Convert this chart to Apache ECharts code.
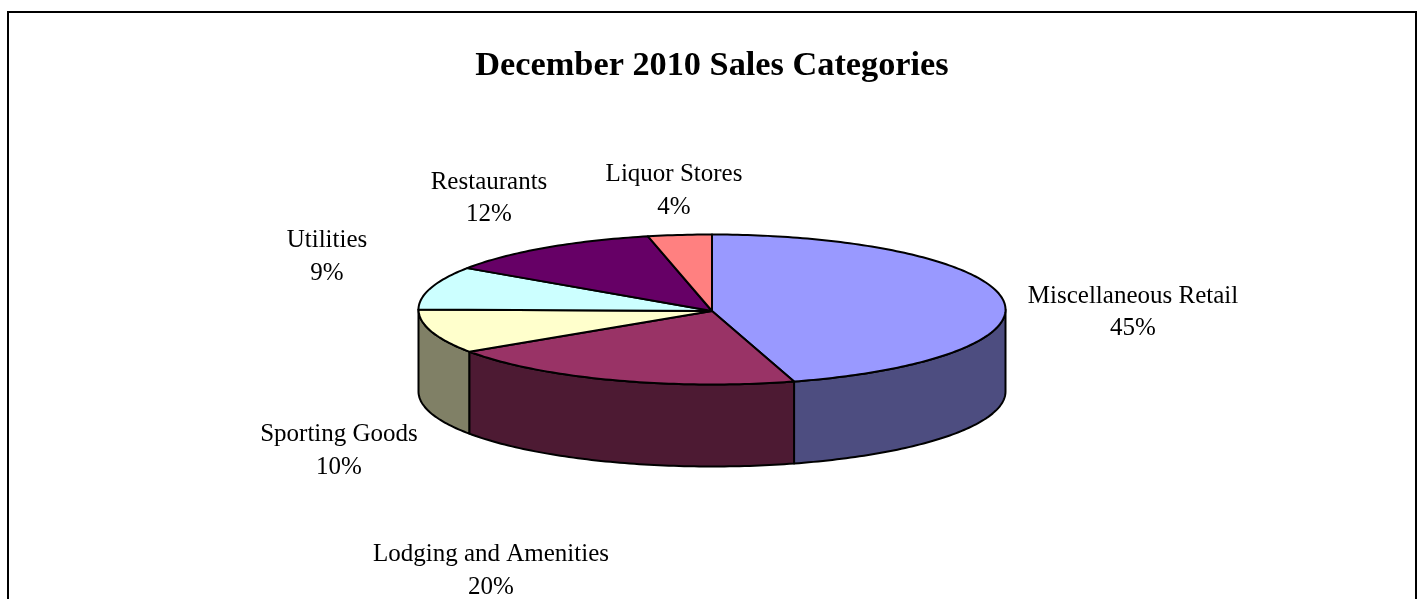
<!DOCTYPE html>
<html><head><meta charset="utf-8">
<style>html,body{margin:0;padding:0;background:#fff}#c{width:1417px;height:599px}</style>
<script src="https://cdn.jsdelivr.net/npm/echarts@6/dist/echarts.min.js"></script>
</head><body><div id="c"></div>
<script>
const categories = ['Miscellaneous Retail','Lodging and Amenities','Sporting Goods','Utilities','Restaurants','Liquor Stores'];
const shares = [45.49,20.01,9.5,9.3,12.2,3.5];
const topColors = ['#9999FF','#993366','#FFFFCC','#CCFFFF','#660066','#FF8080'];
const wallColors = ['#4D4D80','#4D1A33','#808066','#668080','#330033','#804040'];

const total = shares.reduce((a,b)=>a+b,0);
const cumulative = []; shares.reduce((s,v,i)=>(cumulative[i]=s,s+v),0);
// layout of the pie disc
const CX=712, CY=309.5, HUB_DY=1.5, RX=293.5, RY=75, DEPTH=82, FONT='"Liberation Serif","Times New Roman",serif';
const labelAnchors = [[1133,312.5],[491,571],[339,451],[327,257],[489,198.5],[674,191]];
const pt=(deg,dy)=>{const a=deg*Math.PI/180;return [CX+RX*Math.sin(a),CY-RY*Math.cos(a)+(dy||0)];};
const arc=(a0,a1,dy)=>{const n=Math.max(2,Math.ceil(Math.abs(a1-a0)));const out=[];
  for(let i=0;i<=n;i++)out.push(pt(a0+(a1-a0)*i/n,dy));return out;};
const stroke={stroke:'#000',lineWidth:2,lineJoin:'round'};
const angles=(api)=>{const i=api.value(0);const a0=cumulative[i]/total*360;return [i,a0,a0+api.value(1)/total*360];};

function renderWall(params,api){
  const [i,a0,a1]=angles(api);
  const s=Math.max(a0,90), e=Math.min(a1,270);
  if(e<=s) return {type:'group',children:[]};
  return {type:'polygon',shape:{points:arc(s,e,0).concat(arc(e,s,DEPTH))},style:{fill:wallColors[i],...stroke}};
}
function renderTop(params,api){
  const [i,a0,a1]=angles(api);
  return {type:'polygon',shape:{points:[[CX,CY+HUB_DY]].concat(arc(a0,a1,0))},style:{fill:topColors[i],...stroke}};
}
function renderLabel(params,api){
  const i=api.value(0), pct=Math.round(api.value(1)/total*100);
  const [x,y]=labelAnchors[i];
  return {type:'text',x,y,style:{text:categories[i]+'\n'+pct+'%',fill:'#000',
    font:'25px '+FONT,lineHeight:32.5,align:'center',verticalAlign:'middle'}};
}
const rows=shares.map((v,i)=>[i,v]);
const chart=echarts.init(document.getElementById('c'),null,{renderer:'canvas'});
chart.setOption({
  animation:false,backgroundColor:'#fff',
  title:{text:'December 2010 Sales Categories',left:712,top:49,padding:0,textAlign:'center',
    textStyle:{fontFamily:FONT,fontWeight:'bold',fontSize:34.3,color:'#000'}},
  graphic:[{type:'polyline',silent:true,shape:{points:[[8,600],[8,12],[1416,12],[1416,600]]},
    style:{stroke:'#000',lineWidth:2,fill:null}}],
  series:[
    {type:'custom',coordinateSystem:'none',renderItem:renderWall,data:rows,z:1,silent:true},
    {type:'custom',coordinateSystem:'none',renderItem:renderTop,data:rows,z:2,silent:true},
    {type:'custom',coordinateSystem:'none',renderItem:renderLabel,data:rows,z:3,silent:true}
  ]
});
</script></body></html>
